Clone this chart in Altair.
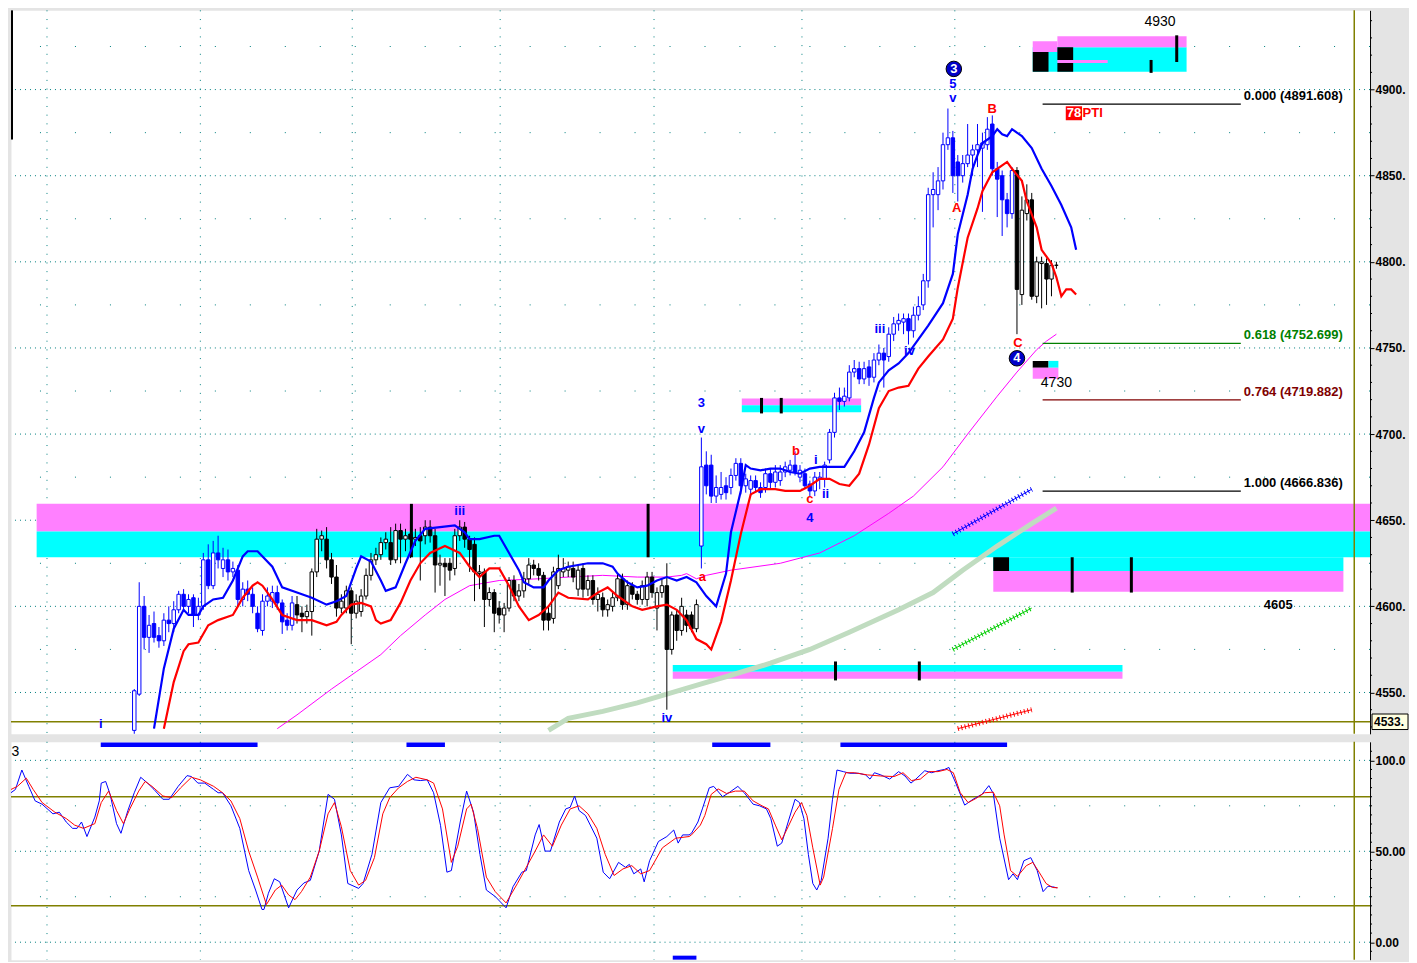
import altair as alt
import pandas as pd

# ---------------- candles (bar index t, first visible bar = 25) ----------------
T_FIRST = 25
c_open = [
 4528,4549,4600,4582,4590,4583,4580,4592,4590,4598,
 4607,4600,4605,4595,4600,4627,4612,4631,4622,4627,
 4620,4621,4604,4610,4607,4596,4586,4603,4603,4608,
 4602,4592,4589,4601,4596,4594,4597,4620,4639,4639,
 4627,4617,4599,4599,4609,4596,4597,4606,4618,4627,
 4630,4637,4637,4627,4644,4639,4642,4639,4641,4641,
 4646,4641,4624,4625,4625,4622,4641,4646,4639,4636,
 4619,4620,4604,4608,4599,4595,4599,4615,4606,4609,
 4616,4624,4622,4618,4596,4593,4612,4620,4621,4622,
 4610,4622,4610,4615,4604,4605,4598,4600,4605,4616,
 4601,4612,4607,4604,4604,4617,4599,4608,4612,4575,
 4595,4586,4595,4595,4587,4635,4682,4682,4664,4665,
 4670,4669,4676,4683,4670,4668,4673,4669,4669,4677,
 4672,4673,4678,4679,4682,4675,4677,4671,4667,4674,
 4674,4685,4701,4721,4719,4721,4736,4738,4732,4739,
 4733,4743,4747,4745,4758,4764,4765,4767,4760,4769,
 4775,4789,4839,4839,4847,4868,4872,4858,4850,4857,
 4862,4865,4866,4868,4880,4854,4850,4836,4828,4853,
 4781,4828,4836,4780,4799,4799,4790,4798]
c_high = [
 4552,4614,4606,4595,4597,4588,4596,4600,4603,4609,
 4610,4607,4607,4605,4631,4636,4638,4641,4634,4633,
 4626,4624,4614,4615,4611,4600,4607,4611,4612,4612,
 4604,4596,4606,4606,4600,4601,4622,4645,4644,4646,
 4631,4624,4607,4612,4611,4607,4610,4622,4631,4634,
 4640,4643,4646,4648,4648,4645,4650,4645,4646,4650,
 4650,4645,4630,4628,4628,4645,4650,4649,4641,4640,
 4624,4622,4611,4610,4603,4602,4617,4618,4613,4620,
 4628,4627,4625,4620,4600,4623,4630,4628,4626,4626,
 4624,4625,4618,4618,4611,4608,4604,4608,4619,4619,
 4615,4614,4609,4615,4620,4620,4611,4616,4625,4597,
 4598,4605,4598,4597,4604,4698,4690,4688,4676,4678,
 4675,4680,4686,4686,4677,4676,4676,4672,4680,4680,
 4682,4682,4684,4685,4690,4682,4680,4673,4678,4678,
 4684,4703,4724,4727,4727,4740,4743,4742,4742,4743,
 4747,4752,4750,4762,4768,4770,4770,4770,4774,4780,
 4793,4843,4852,4855,4875,4889,4876,4862,4862,4880,
 4868,4880,4875,4884,4885,4858,4853,4840,4855,4855,
 4838,4845,4840,4803,4803,4802,4801,4800]
c_low = [
 4520,4548,4575,4573,4579,4576,4577,4585,4585,4596,
 4597,4596,4588,4592,4598,4610,4610,4622,4617,4615,
 4617,4600,4600,4603,4596,4585,4583,4600,4599,4598,
 4584,4586,4586,4590,4585,4590,4583,4617,4632,4622,
 4613,4594,4596,4596,4578,4593,4594,4604,4615,4624,
 4627,4633,4624,4625,4625,4632,4628,4635,4615,4636,
 4637,4608,4612,4606,4615,4618,4638,4634,4620,4603,
 4610,4588,4600,4585,4590,4585,4597,4603,4603,4605,
 4613,4618,4615,4586,4586,4590,4610,4617,4617,4614,
 4606,4605,4606,4601,4597,4594,4594,4597,4603,4598,
 4598,4604,4601,4601,4600,4605,4586,4605,4540,4572,
 4580,4583,4585,4585,4585,4622,4665,4660,4660,4662,
 4662,4665,4673,4665,4666,4664,4666,4663,4666,4668,
 4669,4670,4675,4676,4676,4672,4668,4664,4664,4668,
 4669,4683,4698,4714,4716,4719,4733,4729,4729,4728,
 4730,4740,4727,4742,4754,4760,4758,4752,4756,4766,
 4772,4785,4820,4830,4842,4865,4840,4835,4846,4855,
 4850,4855,4829,4865,4850,4826,4815,4820,4825,4758,
 4775,4824,4778,4776,4773,4775,4780,4796]
c_close = [
 4551,4600,4582,4589,4582,4580,4592,4590,4598,4607,
 4600,4604,4595,4600,4627,4612,4631,4627,4627,4620,
 4622,4604,4610,4607,4600,4587,4603,4606,4608,4602,
 4591,4589,4602,4595,4594,4597,4620,4639,4641,4627,
 4617,4599,4603,4609,4596,4603,4606,4618,4627,4630,
 4637,4639,4627,4644,4639,4641,4639,4640,4638,4646,
 4641,4624,4625,4623,4621,4641,4646,4639,4633,4620,
 4620,4604,4608,4596,4595,4599,4615,4606,4609,4616,
 4624,4622,4618,4592,4592,4620,4622,4622,4623,4617,
 4621,4610,4615,4604,4607,4598,4601,4605,4616,4601,
 4612,4607,4604,4612,4617,4608,4608,4612,4575,4595,
 4586,4600,4589,4587,4601,4681,4670,4664,4669,4669,
 4666,4676,4683,4670,4674,4673,4669,4666,4677,4672,
 4678,4678,4681,4682,4678,4679,4670,4667,4675,4675,
 4682,4701,4721,4719,4722,4736,4738,4732,4738,4733,
 4743,4747,4743,4758,4764,4766,4767,4760,4769,4774,
 4789,4839,4842,4847,4868,4872,4850,4850,4857,4862,
 4865,4868,4869,4877,4854,4848,4836,4828,4853,4784,
 4830,4836,4780,4800,4800,4790,4798,4798]
blue_spans = [(25, 57), (140, 203)]

# ---------------- moving averages ----------------
blue_t = [29,31,33,35,36,38,39,41,43,45,47,48,50,53,55,58,61,64,66,68,
          70,71,73,75,76,78,80,82,84,87,90,92,93,95,98,99,101,103,104,106,
          108,109,111,113,117,120,122,123,125,127,129,131,133,135,137,139,141,143,145,146,
          148,149,150,152,154,156,158,160,162,164,169,171,173,175,176,178,180,182,184,186,
          189,191,192,194,195,196,197,199,200,201,202,203,205,207,209,211,213,215,216]
blue_v = [4529,4564,4587,4598,4595,4595,4600,4604,4605,4615,4629,4632,4632,4623,4611,4608,4605,4601,4603,4606,
          4622,4629,4626,4615,4609,4611,4625,4638,4645,4646,4647,4643,4639,4639,4641,4641,4631,4621,4614,4611,
          4611,4615,4621,4623,4625,4625,4623,4619,4614,4611,4612,4615,4617,4615,4617,4614,4606,4600,4619,4643,
          4667,4682,4680,4679,4680,4680,4678,4677,4680,4681,4681,4690,4701,4721,4730,4737,4741,4747,4755,4763,
          4776,4793,4816,4839,4854,4862,4869,4873,4877,4874,4873,4877,4873,4866,4854,4844,4833,4820,4807]
red_t = [31,33,35,36,38,40,42,45,46,47,49,50,51,53,55,58,61,64,66,67,
         69,71,73,74,75,77,79,81,83,85,88,91,93,95,97,99,101,103,105,107,
         109,111,113,117,119,121,123,126,128,131,133,135,137,139,141,142,144,146,148,150,
         152,155,157,160,162,164,166,168,170,172,174,176,178,180,182,184,186,189,191,192,
         194,196,197,199,201,202,203,205,206,208,209,211,212,213,214,215,216]
red_v = [4529,4556,4574,4578,4579,4589,4592,4595,4600,4605,4612,4614,4612,4604,4595,4592,4592,4589,4591,4595,
         4601,4602,4600,4592,4590,4592,4602,4615,4625,4631,4635,4631,4623,4617,4622,4622,4612,4600,4592,4595,
         4600,4608,4605,4604,4608,4611,4606,4600,4598,4600,4601,4598,4592,4581,4578,4575,4591,4615,4642,4665,
         4668,4668,4667,4667,4670,4674,4674,4671,4670,4677,4694,4715,4725,4727,4728,4738,4745,4755,4767,4785,
         4814,4831,4841,4852,4856,4858,4854,4847,4835,4820,4807,4799,4791,4780,4784,4784,4781]
mag_t = [54,58,65,70,75,79,84,88,93,99,107,113,120,127,133,136,137,139,141,146,
         156,164,171,178,180,183,189,194,200,204,208,210,212]
mag_v = [4529,4537,4552,4562,4572,4583,4595,4604,4612,4615,4616,4617,4618,4617,4617,4618,4619,4616,4618,4621,
         4625,4631,4641,4654,4658,4664,4681,4700,4722,4736,4749,4754,4758]
grn_t = [109,113,120,127,133,140,146,154,162,170,180,187,193,200,207,212]
grn_v = [4528,4535,4539,4544,4549,4555,4560,4567,4575,4585,4598,4608,4621,4635,4648,4657]

# short hatched trend segments: t1, t2, p1, p2, colour
seg_t1 = [191, 191, 192]
seg_t2 = [207, 207, 207]
seg_p1 = [4642, 4575, 4529]
seg_p2 = [4668, 4599, 4540]
seg_col = ['#0000ff', '#00cc00', '#ff0000']

# ---------------- stochastic ----------------
k_t = [0,0.9,2.2,3.6,4.9,6.3,8.5,9.8,11.2,12.5,13.4,14.3,15.4,17,17.9,18.3,19.2,20.1,21.4,22.3,
       23.7,25,26.3,27.7,29,30.8,32.1,33.9,35.7,36.6,37.9,39.3,41.1,42,42.9,44.6,46.4,48.2,49.6,50.9,
       51.3,52.2,53.4,54.5,56.3,58,59.4,60.7,62.5,64.3,65.6,67,68.3,70.5,71.4,73.2,75,76.8,78.6,80.4,
       81.7,83,84.4,85.7,87.1,88.4,89.3,91.1,92.4,93.8,95.1,96.4,98.2,100.4,101.8,103.6,104.5,106.3,107.1,108.3,
       109.4,111.2,112.5,113.4,114.3,115.2,116.5,118.8,120.1,121.4,123.2,124.6,125.4,126.3,127.7,128.4,129.5,131.3,133,134.4,
       135.3,136.2,137.5,
       138,139.3,140.2,141.6,142.5,144.3,145.6,147.4,148.7,150.5,151.8,153.2,154.1,155.4,156.3,157.6,159,159.9,160.8,161.7,
       162.6,163.4,164.3,165.7,166.6,167.5,168.8,170.1,171.9,173.3,174.2,175.1,176.4,178.2,180,181.3,182.5,183.5,185.3,186.7,
       188,189.3,190.2,191.6,193.4,195.1,196.9,198.3,199.2,200.5,202.3,203.2,204.1,205.4,206.8,208.1,209.3,210.3,211.2,212.1]
k_v = [82.2,84.0,94.7,85.7,77.7,75.9,70.6,71.5,66.1,62.6,62.6,66.1,58.1,68.8,77.7,87.5,88.4,81.3,65.2,59.9,
       72.4,82.2,90.7,87.5,84.0,78.6,78.6,85.7,91.6,91.1,87.5,87.5,84.0,82.2,82.2,75.0,62.6,39.4,28.7,18.0,
       18.0,26.9,34.9,33.2,18.9,28.7,32.6,34.0,50.1,81.3,78.6,59.0,32.3,29.6,32.3,48.3,76.8,84.9,85.7,92.3,
       89.3,88.9,89.3,82.2,64.3,38.5,39.4,66.1,83.1,71.5,48.3,28.7,25.1,18.9,30.5,38.5,39.4,59.0,64.7,50.1,
       50.1,66.1,73.3,74.2,80.4,72.4,69.7,57.2,38.5,34.9,43.9,41.2,42.8,37.6,40.3,33.2,44.8,55.4,58.1,61.7,
       54.5,59.0,59.0,
       59.9,66.1,73.3,84.9,85.7,80.0,82.2,85.7,82.2,75.9,75.0,73.3,67.9,52.8,54.5,66.1,78.6,76.8,67.9,48.3,
       32.3,28.7,34.0,57.2,78.6,94.7,93.8,92.9,92.9,92.0,89.7,93.2,92.0,89.7,93.8,91.4,87.5,89.7,94.3,93.2,
       94.3,95.0,96.1,87.5,75.4,78.6,81.3,86.1,81.8,57.2,34.4,37.6,34.4,44.8,46.5,39.4,27.8,30.8,30.5,29.9]
d_t = [0,1.3,3.1,4.5,6.3,8.9,11.2,12.9,14.7,17,18.3,19.8,21.4,22.8,24.1,25.9,27.2,28.6,30.8,32.6,
       34.4,36.6,38.4,41.1,42.9,44.6,46.4,48.2,50,51.8,53.6,54.9,56.3,57.6,58.9,60.7,62.5,64.3,65.6,67,
       68.8,70.5,71.9,73.7,75.4,76.8,78.6,80.4,82.1,84.4,85.7,87.5,89.3,90.6,92.4,93.3,94.6,96.4,98.2,100.4,
       102.7,104.5,106.3,108,109.8,111.6,113.4,115.2,117,118.8,120.5,122.3,124.1,125.9,127.7,129.5,132.1,134.8,137.5,
       138,139.8,140.7,142,143.4,145.1,146.9,148.7,150.5,152.3,153.6,155,156.3,157.6,159,160.3,161.4,162.6,164.1,164.8,
       166.6,167.9,169.3,171,173.7,176.4,179.1,180.9,182.6,184.4,186.2,188,189.8,191.1,192.5,194.1,195.6,197.4,199.2,200.5,
       201.4,202.7,204.1,205.9,207.2,208.5,209.9,211.2,212.3]
d_v = [84.0,85.7,90.2,84.0,76.8,71.5,68.0,64.4,62.6,65.2,76.8,83.1,72.4,65.2,73.3,83.1,88.4,85.7,80.4,79.5,
       84.9,90.7,89.3,85.7,82.2,77.7,68.0,50.1,35.8,20.7,28.7,31.4,26.0,23.4,27.8,35.8,50.1,70.6,76.8,63.5,
       39.4,31.4,34.0,46.5,70.6,79.5,84.9,88.4,90.7,89.3,87.5,73.3,43.9,52.8,73.3,75.9,62.6,35.8,27.8,21.6,
       32.3,41.2,50.1,59.0,52.8,64.4,73.3,75.0,70.6,62.6,48.3,36.7,40.3,42.1,37.6,39.4,51.9,57.2,58.1,
       59.0,64.4,69.7,81.3,84.3,81.8,83.1,83.1,77.7,75.0,73.3,64.4,56.3,63.5,71.5,76.8,69.7,51.9,31.4,35.8,
       62.6,84.0,93.2,93.2,92.0,91.4,91.1,93.2,88.9,89.7,93.8,93.8,95.0,93.2,82.2,76.8,78.9,82.2,82.5,75.0,
       59.0,39.4,36.2,42.1,43.9,38.5,32.3,30.1,29.9]

# ---------------- zones (t1, t2, price lo, price hi, colour) ----------------
MAG, CYN, BLK = '#ff80ff', '#00ffff', '#000000'
zone_t1 = [5.2, 5.2, 199.2, 199.2, 199.2, 134.2, 134.2, 148.2, 148.2,
           207.2, 207.2, 212.2, 212.2, 207.2, 212.2, 212.2, 207.2, 210.4, 207.2]
zone_t2 = [275.6, 275.6, 270.2, 270.2, 202.4, 225.4, 225.4, 172.4, 172.4,
           238.4, 212.2, 238.4, 222.4, 210.4, 215.4, 215.4, 210.4, 212.4, 212.4]
zone_lo = [4643.4, 4628.5, 4620.5, 4608.5, 4620.5, 4562, 4558, 4716.7, 4712.7,
           4910.3, 4921.8, 4924.6, 4915.5, 4910.3, 4917.2, 4910.3, 4738.5, 4738.5, 4732.2]
zone_hi = [4659.5, 4643.4, 4628.5, 4620.5, 4628.5, 4566, 4562, 4720.7, 4716.7,
           4924.6, 4928.1, 4930.9, 4917.2, 4921.8, 4924.6, 4915.5, 4742.5, 4742.5, 4738.5]
zone_col = [MAG, CYN, CYN, MAG, BLK, CYN, MAG, MAG, CYN,
            CYN, MAG, MAG, MAG, BLK, BLK, BLK, BLK, CYN, MAG]
bar_t = [81.2, 129.2, 215.2, 227.2, 167.2, 184.2, 152.2, 156.2, 236.4, 231.2]
bar_lo = [4628.5, 4628.5, 4608, 4608, 4557, 4557, 4712, 4712, 4916, 4909.7]
bar_hi = [4659.5, 4659.5, 4628.5, 4628.5, 4568, 4568, 4721, 4721, 4931.5, 4917.2]

# ---------------- fibonacci levels ----------------
fib_p = [4891.608, 4752.699, 4719.882, 4666.836]
fib_txt = ['0.000 (4891.608)', '0.618 (4752.699)', '0.764 (4719.882)', '1.000 (4666.836)']
fib_col = ['#000000', '#008000', '#800000', '#000000']
FIB_T1, FIB_T2 = 209.2, 249.4

# ---------------- labels ----------------
BL, RD, BK = '#0000ff', '#ff0000', '#000000'
lab_t = [191, 191, 199, 191.8, 204.2, 176.2, 182.2, 140, 140, 159.2, 163.2, 162, 165.2, 162, 140.2, 91, 133, 18.2, 257]
lab_p = [4903, 4895, 4888.5, 4831, 4753, 4761, 4748, 4718, 4703, 4690.4, 4685, 4662.3, 4665, 4651.5, 4617, 4655.4, 4535.2, 4531.7, 4600.5]
lab_s = ['5', 'v', 'B', 'A', 'C', 'iii', 'iv', '3', 'v', 'b', 'i', 'c', 'ii', '4', 'a', 'iii', 'iv', 'i', '4605']
lab_c = [BL, BL, RD, RD, RD, BL, BL, BL, BL, RD, BL, RD, BL, BL, RD, BL, BL, BL, BK]
plain_t = [233, 212]
plain_p = [4939, 4729.5]
plain_s = ['4930', '4730']
circ_t = [191.2, 204]
circ_p = [4912, 4744]
circ_s = ['3', '4']

grid_v_t = [7.3, 38.4, 69.2, 99.2, 130.4, 160.4, 191.4]
marker_t1 = [18.2, 80.2, 142.2, 168.2]
marker_t2 = [50, 88, 154, 202]

# ---------------- layout ----------------
W, H1, H2 = 1360, 724, 218
T_MAX = 275.6
FONT = 'Liberation Sans'
xs = alt.Scale(domain=[0, T_MAX], nice=False, zero=False)
ys1 = alt.Scale(domain=[4526, 4946], nice=False, zero=False)
ys2 = alt.Scale(domain=[-9.6, 110.2], nice=False, zero=False)

axis_common = dict(orient='right', grid=False, domainColor='black', domainWidth=1, tickColor='black',
                   tickSize=4, labelColor='black', labelFont=FONT, labelFontSize=12,
                   labelFontWeight='bold', labelPadding=1, labelOverlap=False, title=None)
ax1 = alt.Axis(values=[4550, 4600, 4650, 4700, 4750, 4800, 4850, 4900],
               labelExpr="datum.value + '.'", **axis_common)
ax2 = alt.Axis(values=[0, 50, 100],
               labelExpr="datum.value == 100 ? '100.0' : (datum.value == 50 ? '50.00' : '0.00')",
               **axis_common)


def X(f):
    return alt.X(f, scale=xs, axis=None)


def Y1(f):
    return alt.Y(f, scale=ys1, axis=ax1)


def Y2(f):
    return alt.Y(f, scale=ys2, axis=ax2)


TEAL = '#008080'
OLIVE = '#808000'

# ---- top panel ----
gmaj = alt.Chart(pd.DataFrame({'v': [4550, 4600, 4650, 4700, 4750, 4800, 4850, 4900]})).mark_rule(
    color=TEAL, strokeDash=[1, 4], strokeWidth=1).encode(y=Y1('v:Q'))
gmin = alt.Chart(pd.DataFrame({'v': [4575, 4625, 4675, 4725, 4775, 4825, 4875, 4925]})).mark_rule(
    color=TEAL, strokeDash=[1, 34], strokeWidth=1).encode(y=Y1('v:Q'))
gvert = alt.Chart(pd.DataFrame({'t': grid_v_t})).mark_rule(
    color=TEAL, strokeDash=[1, 7.7], strokeWidth=1).encode(x=X('t:Q'))

zdf = pd.DataFrame({'t1': zone_t1, 't2': zone_t2, 'lo': zone_lo, 'hi': zone_hi, 'col': zone_col})
zones = alt.Chart(zdf).mark_rect(clip=True).encode(
    x=X('t1:Q'), x2=alt.X2('t2'), y=Y1('lo:Q'), y2=alt.Y2('hi'), fill=alt.Fill('col:N', scale=None))
zbars = alt.Chart(pd.DataFrame({'t': bar_t, 'lo': bar_lo, 'hi': bar_hi})).mark_rule(
    color='black', strokeWidth=3).encode(x=X('t:Q'), y=Y1('lo:Q'), y2=alt.Y2('hi'))

olive_h = alt.Chart(pd.DataFrame({'v': [4533]})).mark_rule(color=OLIVE, strokeWidth=1.5).encode(y=Y1('v:Q'))
olive_v1 = alt.Chart(pd.DataFrame({'t': [272.4]})).mark_rule(color=OLIVE, strokeWidth=1.5).encode(x=X('t:Q'))


def ma_line(ts, vs, color, width):
    return alt.Chart(pd.DataFrame({'t': ts, 'v': vs})).mark_line(
        color=color, strokeWidth=width, clip=True).encode(x=X('t:Q'), y=Y1('v:Q'))


grn_line = ma_line(grn_t, grn_v, '#c0dcc0', 5)
mag_line = ma_line(mag_t, mag_v, '#ff00ff', 1)
blue_line = ma_line(blue_t, blue_v, '#0000ff', 2.2)
red_line = ma_line(red_t, red_v, '#ff0000', 2.2)

sdf = pd.DataFrame({'t1': seg_t1, 't2': seg_t2, 'p1': seg_p1, 'p2': seg_p2, 'col': seg_col})
seg_line = alt.Chart(sdf).mark_rule(strokeWidth=1, clip=True).encode(
    x=X('t1:Q'), x2=alt.X2('t2'), y=Y1('p1:Q'), y2=alt.Y2('p2'), stroke=alt.Stroke('col:N', scale=None))
seg_hatch = alt.Chart(sdf).mark_rule(strokeWidth=5, strokeDash=[1, 2.6], clip=True).encode(
    x=X('t1:Q'), x2=alt.X2('t2'), y=Y1('p1:Q'), y2=alt.Y2('p2'), stroke=alt.Stroke('col:N', scale=None))

n = len(c_open)
ts = list(range(T_FIRST, T_FIRST + n))
kind = ['#0000ff' if any(a <= t <= b for a, b in blue_spans) else '#000000' for t in ts]
cdf = pd.DataFrame({'t': ts, 'o': c_open, 'h': c_high, 'l': c_low, 'c': c_close, 'col': kind})
cdf['fillc'] = ['#ffffff' if c >= o else k for o, c, k in zip(cdf.o, cdf.c, cdf.col)]
cdf['t1'] = cdf.t - 0.35
cdf['t2'] = cdf.t + 0.35
wicks = alt.Chart(cdf).mark_rule(strokeWidth=1, clip=True).encode(
    x=X('t:Q'), y=Y1('l:Q'), y2=alt.Y2('h'), stroke=alt.Stroke('col:N', scale=None))
bodies = alt.Chart(cdf).mark_rect(strokeWidth=1, clip=True).encode(
    x=X('t1:Q'), x2=alt.X2('t2'), y=Y1('o:Q'), y2=alt.Y2('c'),
    fill=alt.Fill('fillc:N', scale=None), stroke=alt.Stroke('col:N', scale=None))

fdf = pd.DataFrame({'p': fib_p, 's': fib_txt, 'col': fib_col, 't1': FIB_T1, 't2': FIB_T2})
fib_rules = alt.Chart(fdf).mark_rule(strokeWidth=1.3).encode(
    x=X('t1:Q'), x2=alt.X2('t2'), y=Y1('p:Q'), stroke=alt.Stroke('col:N', scale=None))
fib_text = alt.Chart(fdf).mark_text(align='left', baseline='bottom', dx=3, dy=-1, font=FONT,
                                    fontSize=13, fontWeight='bold').encode(
    x=X('t2:Q'), y=Y1('p:Q'), text='s:N', color=alt.Color('col:N', scale=None))

ldf = pd.DataFrame({'t': lab_t, 'p': lab_p, 's': lab_s, 'col': lab_c})
labels = alt.Chart(ldf).mark_text(font=FONT, fontSize=13, fontWeight='bold', baseline='middle').encode(
    x=X('t:Q'), y=Y1('p:Q'), text='s:N', color=alt.Color('col:N', scale=None))
plain = alt.Chart(pd.DataFrame({'t': plain_t, 'p': plain_p, 's': plain_s})).mark_text(
    font=FONT, fontSize=14, color='black', baseline='middle').encode(x=X('t:Q'), y=Y1('p:Q'), text='s:N')
cdf2 = pd.DataFrame({'t': circ_t, 'p': circ_p, 's': circ_s})
circles = alt.Chart(cdf2).mark_point(shape='circle', filled=True, size=240, fill='#0000c8',
                                      stroke='black', strokeWidth=1, opacity=1).encode(x=X('t:Q'), y=Y1('p:Q'))
circ_txt = alt.Chart(cdf2).mark_text(font=FONT, fontSize=13, fontWeight='bold', color='white',
                                     baseline='middle').encode(x=X('t:Q'), y=Y1('p:Q'), text='s:N')

pti_box = alt.Chart(pd.DataFrame({'t1': [213.9], 't2': [217.2], 'lo': [4882.2], 'hi': [4890.3]})).mark_rect(
    color='#ff0000').encode(x=X('t1:Q'), x2=alt.X2('t2'), y=Y1('lo:Q'), y2=alt.Y2('hi'))
pti_num = alt.Chart(pd.DataFrame({'t': [215.55], 'p': [4886.3], 's': ['78']})).mark_text(
    font=FONT, fontSize=13, fontWeight='bold', color='white', baseline='middle').encode(
    x=X('t:Q'), y=Y1('p:Q'), text='s:N')
pti_txt = alt.Chart(pd.DataFrame({'t': [217.3], 'p': [4886.3], 's': ['PTI']})).mark_text(
    font=FONT, fontSize=13, fontWeight='bold', color='#ff0000', baseline='middle', align='left').encode(
    x=X('t:Q'), y=Y1('p:Q'), text='s:N')

corner = alt.Chart(pd.DataFrame({'t': [0.2], 'lo': [4871], 'hi': [4946]})).mark_rule(
    color='black', strokeWidth=2).encode(x=X('t:Q'), y=Y1('lo:Q'), y2=alt.Y2('hi'))

minor1 = alt.Chart(pd.DataFrame({'v': [v for v in range(4530, 4946, 10) if v % 50]})).mark_rule(
    color='black').encode(x=alt.value(W), x2=alt.value(W + 2), y=Y1('v:Q'))
last_box = alt.Chart(pd.DataFrame({'lo': [4528.5], 'hi': [4537.5]})).mark_rect(
    fill='#ffffe0', stroke='black', strokeWidth=1).encode(
    x=alt.value(W + 2), x2=alt.value(W + 38), y=Y1('lo:Q'), y2=alt.Y2('hi'))
last_txt = alt.Chart(pd.DataFrame({'v': [4533.0], 's': ['4533.']})).mark_text(
    font=FONT, fontSize=12, fontWeight='bold', color='black', align='left', baseline='middle').encode(
    x=alt.value(W + 4), y=Y1('v:Q'), text='s:N')

top = alt.layer(
    gmaj, gmin, gvert, zones, zbars, olive_h, olive_v1, grn_line, mag_line, seg_line, seg_hatch,
    wicks, bodies, blue_line, red_line, fib_rules, fib_text, labels, plain, circles, circ_txt,
    pti_box, pti_num, pti_txt, corner, minor1, last_box, last_txt
).properties(width=W, height=H1)

# ---- bottom panel ----
g2maj = alt.Chart(pd.DataFrame({'v': [0, 50, 100]})).mark_rule(
    color=TEAL, strokeDash=[1, 4], strokeWidth=1).encode(y=Y2('v:Q'))
g2min = alt.Chart(pd.DataFrame({'v': [25, 75]})).mark_rule(
    color=TEAL, strokeDash=[1, 34], strokeWidth=1).encode(y=Y2('v:Q'))
g2vert = alt.Chart(pd.DataFrame({'t': grid_v_t})).mark_rule(
    color=TEAL, strokeDash=[1, 7.7], strokeWidth=1).encode(x=X('t:Q'))
olive2 = alt.Chart(pd.DataFrame({'v': [20, 80]})).mark_rule(color=OLIVE, strokeWidth=1.5).encode(y=Y2('v:Q'))
olive_v2 = alt.Chart(pd.DataFrame({'t': [272.4]})).mark_rule(color=OLIVE, strokeWidth=1.5).encode(x=X('t:Q'))
k_line = alt.Chart(pd.DataFrame({'t': k_t, 'v': k_v})).mark_line(color='#0000ff', strokeWidth=1).encode(
    x=X('t:Q'), y=Y2('v:Q'))
d_line = alt.Chart(pd.DataFrame({'t': d_t, 'v': d_v})).mark_line(color='#ff0000', strokeWidth=1).encode(
    x=X('t:Q'), y=Y2('v:Q'))
mk = alt.Chart(pd.DataFrame({'t1': marker_t1 + [134.2], 't2': marker_t2 + [139],
                             'lo': [107.4] * 4 + [-9.6], 'hi': [109.8] * 4 + [-7.4]})).mark_rect(
    color='#0000ff').encode(x=X('t1:Q'), x2=alt.X2('t2'), y=Y2('lo:Q'), y2=alt.Y2('hi'))
three = alt.Chart(pd.DataFrame({'t': [0.1], 'v': [104.5], 's': ['3']})).mark_text(
    font=FONT, fontSize=14, color='black', align='left', baseline='middle').encode(
    x=X('t:Q'), y=Y2('v:Q'), text='s:N')
minor2 = alt.Chart(pd.DataFrame({'v': [v for v in range(-5, 110, 10)] + [10, 20, 30, 40, 60, 70, 80, 90]})).mark_rule(
    color='black').encode(x=alt.value(W), x2=alt.value(W + 2), y=Y2('v:Q'))

bottom = alt.layer(
    g2maj, g2min, g2vert, olive2, olive_v2, k_line, d_line, mk, three, minor2
).properties(width=W, height=H2)

chart = alt.vconcat(top, bottom, spacing=4).properties(
    padding=0, background='#e4e4e4'
).configure_view(fill='white', stroke='transparent')

chart.save("out.html", embed_options={"renderer": "svg", "actions": False})
